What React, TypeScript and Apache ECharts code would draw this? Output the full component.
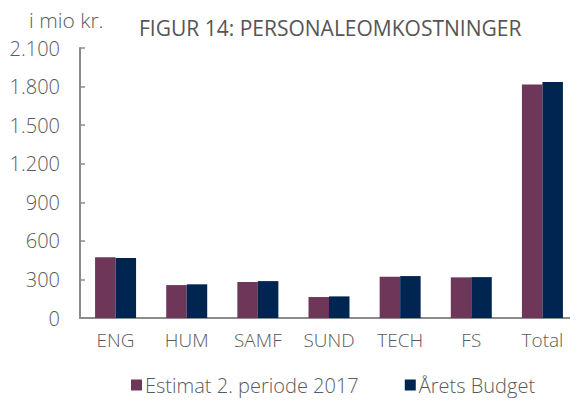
import React, { useEffect, useRef } from "react";
import * as echarts from "echarts";

const categories = ["ENG", "HUM", "SAMF", "SUND", "TECH", "FS", "Total"];
const estimat = [472, 256, 280, 163, 321, 316, 1816];
const budget = [466, 262, 287, 168, 326, 318, 1836];
const seriesNames = ["Estimat 2. periode 2017", "Årets Budget"];
const yTicks = [0, 300, 600, 900, 1200, 1500, 1800, 2100];

const FONT = "Open Sans";
const TEXT = "#5a5a5a";
const W = 300;

export default function App() {
  const ref = useRef<HTMLDivElement>(null);
  useEffect(() => {
    const chart = echarts.init(ref.current!, null, { renderer: "svg" });
    chart.setOption({
      animation: false,
      textStyle: { fontFamily: FONT },
      title: [
        {
          text: "FIGUR 14: PERSONALEOMKOSTNINGER",
          left: 134,
          top: 12,
          textStyle: { fontFamily: FONT, fontSize: 21, fontWeight: 400, color: "#555555" },
        },
        {
          text: "i mio kr.",
          left: 24,
          top: 4,
          textStyle: { fontFamily: FONT, fontSize: 21, fontWeight: W, color: TEXT },
        },
      ],
      legend: {
        left: 126,
        top: 370,
        itemWidth: 11,
        itemHeight: 11,
        itemGap: 46,
        icon: "rect",
        textStyle: { fontFamily: FONT, fontSize: 20, fontWeight: W, color: TEXT, padding: [0, 0, 0, -2] },
        data: seriesNames,
      },
      grid: { left: 80, right: 0, top: 48, bottom: 88, containLabel: false },
      xAxis: {
        type: "category",
        data: categories,
        axisLine: { lineStyle: { color: "#8c8c8c", width: 2 } },
        axisTick: { inside: true, length: 5, lineStyle: { color: "#8c8c8c", width: 1.5 } },
        axisLabel: { fontFamily: FONT, fontSize: 19, fontWeight: W, color: TEXT, margin: 12 },
      },
      yAxis: {
        type: "value",
        min: yTicks[0],
        max: yTicks[yTicks.length - 1],
        interval: 300,
        splitLine: { show: false },
        axisLine: { show: true, lineStyle: { color: "#8c8c8c", width: 2 } },
        axisTick: { show: true, inside: true, length: 5, lineStyle: { color: "#8c8c8c", width: 1.5 } },
        axisLabel: {
          fontFamily: FONT,
          fontSize: 20,
          fontWeight: W,
          color: TEXT,
          margin: 20,
          formatter: (v: number) => v.toLocaleString("da-DK"),
        },
      },
      series: [
        {
          name: seriesNames[0],
          type: "bar",
          data: estimat,
          barWidth: 20.5,
          barGap: "0%",
          itemStyle: { color: "#6e3658" },
        },
        {
          name: seriesNames[1],
          type: "bar",
          data: budget,
          barWidth: 20.5,
          barGap: "0%",
          itemStyle: { color: "#002551" },
        },
      ],
    });
    return () => chart.dispose();
  }, []);
  return <div ref={ref} style={{ width: 578, height: 406, margin: -8 }} />;
}
